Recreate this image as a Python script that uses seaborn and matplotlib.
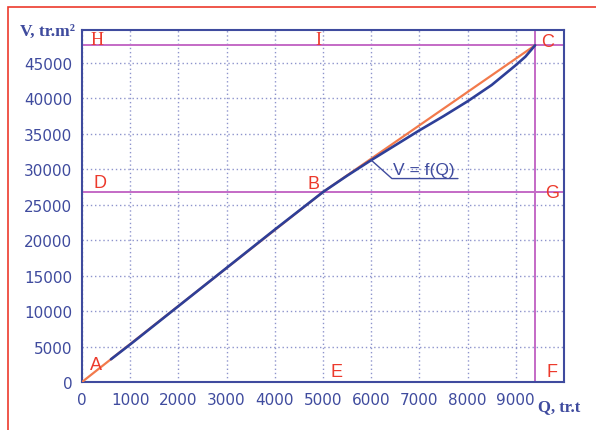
import matplotlib
matplotlib.use("Agg")
import matplotlib.pyplot as plt
from matplotlib.patches import Rectangle
import seaborn as sns
import numpy as np
import pandas as pd

# data
q_orange = [0, 5000, 9400]
v_orange = [0, 26800, 47500]
q_blue = [600, 1000, 2000, 3000, 4000, 5000, 5500, 6000, 6500, 7000, 7500, 8000, 8500, 9000, 9200, 9400]
v_blue = [3200, 5300, 10700, 16100, 21500, 26800, 29100, 31300, 33400, 35500, 37500, 39600, 41900, 44700, 45900, 47500]
x_ticks = [0, 1000, 2000, 3000, 4000, 5000, 6000, 7000, 8000, 9000]
y_ticks = [0, 5000, 10000, 15000, 20000, 25000, 30000, 35000, 40000, 45000]
h_level_top = 47500
h_level_mid = 26800
q_vertical = 9400
point_labels = ["H", "I", "C", "D", "B", "G", "A", "E", "F"]
point_q = [320, 4900, 9650, 380, 4800, 9750, 280, 5270, 9750]
point_v = [48300, 48300, 48100, 28100, 28000, 26800, 2400, 1500, 1500]
serif_labels = ["H", "I"]

sns.set_theme(style="white")
plt.rcParams['font.family'] = ['DejaVu Sans']

navy = "#3f4b9e"
grid_c = "#8e94cc"
magenta = "#c46ac6"
orange = "#f27a4c"
blue = "#2e3f98"
red = "#ec3a2c"

fig = plt.figure(figsize=(5.96, 4.31), dpi=100)
fig.patch.set_facecolor("white")
ax = fig.add_axes([82/596, 48/431, (564-82)/596, (383-30.7)/431])
ax.set_facecolor("white")

# red frame (left and top edges visible)
fig.patches.append(Rectangle((8/596, -0.1), 1.2, (423/431)+0.1, transform=fig.transFigure,
                             fill=False, edgecolor=red, linewidth=1.2, zorder=0))

ax.set_xlim(0, 10000)
ax.set_ylim(0, 49700)
ax.set_xticks(x_ticks)
ax.set_yticks(y_ticks)
ax.grid(True, linestyle=(0, (1, 2)), color=grid_c, linewidth=1.0)

for s in ax.spines.values():
    s.set_color(navy)
    s.set_linewidth(1.5)
ax.tick_params(axis="both", colors=navy, direction="out", length=4, width=1.2,
               labelsize=11, pad=3)
for t in ax.get_xticklabels() + ax.get_yticklabels():
    t.set_color(navy)

# magenta reference lines
ax.axhline(h_level_top, color=magenta, lw=1.4, zorder=2)
ax.axhline(h_level_mid, color=magenta, lw=1.4, zorder=2)
ax.axvline(q_vertical, color=magenta, lw=1.4, zorder=2)

df_o = pd.DataFrame({"Q": q_orange, "V": v_orange})
df_b = pd.DataFrame({"Q": q_blue, "V": v_blue})
sns.lineplot(data=df_o, x="Q", y="V", ax=ax, color=orange, lw=1.6, zorder=3)
sns.lineplot(data=df_b, x="Q", y="V", ax=ax, color=blue, lw=1.9, zorder=4)
ax.set_xlabel("")
ax.set_ylabel("")

# leader for V = f(Q)
ax.plot([6000, 6430, 7800], [31300, 28700, 28700], color=navy, lw=1.0, zorder=5)
ax.text(7100, 28950, "V = f(Q)", color=navy, fontsize=12.5, ha="center", va="bottom",
        family="Liberation Sans")

for lab, q, v in zip(point_labels, point_q, point_v):
    fam = "Liberation Serif" if lab in serif_labels else "Liberation Sans"
    ax.text(q, v, lab, color=red, fontsize=13, ha="center", va="center", family=fam)

fig.text(20/596, 1 - 32/431, "V, tr.m²", color=navy, fontsize=12.5, fontweight="bold",
         family="Liberation Serif", ha="left", va="center")
fig.text(538/596, 1 - 407/431, "Q, tr.t", color=navy, fontsize=12, fontweight="bold",
         family="Liberation Serif", ha="left", va="center")

fig.savefig("out.png", dpi=100)
